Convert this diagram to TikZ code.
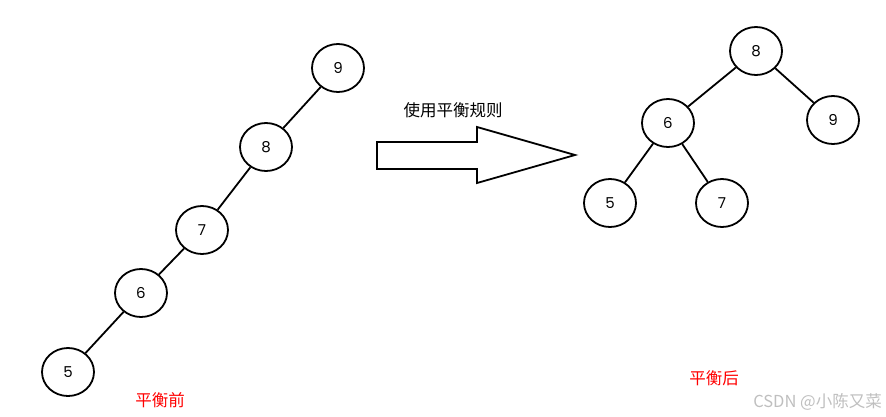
\documentclass[tikz,border=0pt]{standalone}
\usepackage{fontspec}
\setmainfont{Poppins}
\newfontfamily\cjk{Noto Sans CJK SC}
\usetikzlibrary{shapes.geometric}
\begin{document}
\begin{tikzpicture}[x=1pt,y=-1pt,
  tnode/.style={draw,line width=1.8pt,ellipse,minimum width=52pt,minimum height=48pt,inner sep=0pt,font=\fontsize{15}{15}\selectfont},
  edge/.style={line width=1.8pt},
  redlbl/.style={text=red,font=\cjk\fontsize{16.5}{17}\selectfont,inner sep=0pt}]
\useasboundingbox (0,0) rectangle (886,416);
% left tree
\node[tnode] (L9) at (338,68) {9};
\node[tnode] (L8) at (266,147) {8};
\node[tnode] (L7) at (202,230) {7};
\node[tnode] (L6) at (141,293) {6};
\node[tnode] (L5) at (68,372) {5};
\draw[edge] (L9) -- (L8);
\draw[edge] (L8) -- (L7);
\draw[edge] (L7) -- (L6);
\draw[edge] (L6) -- (L5);
% right tree
\node[tnode] (R8) at (756,51) {8};
\node[tnode] (R6) at (668,123) {6};
\node[tnode] (R9) at (833,120) {9};
\node[tnode] (R5) at (610,203) {5};
\node[tnode] (R7) at (722,203) {7};
\draw[edge] (R8) -- (R6);
\draw[edge] (R8) -- (R9);
\draw[edge] (R6) -- (R5);
\draw[edge] (R6) -- (R7);
% arrow
\draw[line width=1.8pt,line join=miter] (377,142) -- (477,142) -- (477,127) -- (575,155) -- (477,183) -- (477,169) -- (377,169) -- cycle;
\node[inner sep=0pt,font=\cjk\fontsize{16.5}{17}\selectfont] (rule) at (453,110) {使用平衡规则};
% labels
\node[redlbl] (before) at (160,400) {平衡前};
\node[redlbl] (after) at (714,378) {平衡后};
\node[inner sep=0pt,text=black!25,font=\cjk\fontsize{16.5}{17}\selectfont,anchor=east] (wm) at (882,402) {CSDN @小陈又菜};
\end{tikzpicture}
\end{document}
